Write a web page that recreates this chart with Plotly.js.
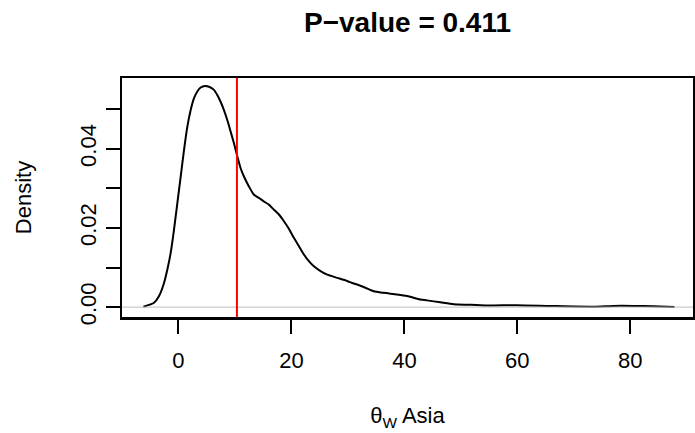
<!DOCTYPE html>
<html>
<head>
<meta charset="utf-8">
<script src="https://cdn.plot.ly/plotly-3.0.1.min.js"></script>
<style>html,body{margin:0;padding:0;background:#fff;}#plot{width:695px;height:433px;}</style>
</head>
<body>
<div id="plot"></div>
<script>
// Density estimate of theta_W Asia
const thetaX = [-6.21, -4.33, -3.44, -2.56, -1.97, -1.38, -0.79, -0.20, 0.39, 0.98, 1.57, 2.16, 2.75, 3.34, 3.93, 4.69, 5.40, 6.28, 6.87, 7.46, 8.05, 8.64, 9.23, 9.82, 10.41, 11.00, 11.59, 12.47, 13.36, 14.24, 15.13, 16.01, 16.90, 17.78, 18.67, 19.55, 20.43, 21.32, 22.20, 23.09, 23.97, 25.15, 26.33, 28.10, 29.87, 30.75, 31.64, 33.11, 34.58, 36.35, 38.71, 40.48, 42.84, 44.00, 46.37, 48.73, 51.68, 54.63, 59.93, 65.82, 73.50, 77.00, 80.57, 84.10, 87.82];
const densityY = [0.0001, 0.0011, 0.0028, 0.0061, 0.0095, 0.0137, 0.0196, 0.0263, 0.0330, 0.0397, 0.0456, 0.0498, 0.0528, 0.0545, 0.0555, 0.0559, 0.0557, 0.0549, 0.0536, 0.0519, 0.0498, 0.0473, 0.0444, 0.0414, 0.0381, 0.0351, 0.0330, 0.0305, 0.0284, 0.0276, 0.0267, 0.0259, 0.0246, 0.0234, 0.0217, 0.0198, 0.0175, 0.0154, 0.0133, 0.0116, 0.0103, 0.0091, 0.0082, 0.0074, 0.0066, 0.0061, 0.0057, 0.0049, 0.0040, 0.0036, 0.0032, 0.0028, 0.0019, 0.0017, 0.0012, 0.0007, 0.0006, 0.0004, 0.0005, 0.0003, 0.0001, 0.0003, 0.0003, 0.0002, 0.0000];
// Observed value (red vertical line)
const observedValue = [10.35];
// Axis ticks
const xTickVals = [0, 20, 40, 60, 80];
const xTickText = ['0', '20', '40', '60', '80'];
const yTickVals = [0, 0.02, 0.04];
const yTickText = ['0.00', '0.02', '0.04'];
const yMinorTickVals = [0.01, 0.03, 0.05];
const titleText = 'P\u2212value = 0.411';
const xTitleText = '\u03B8<sub>W</sub> Asia';
const yTitleText = 'Density';

const FONT = 'Liberation Sans, Arial, Helvetica, sans-serif';

const traces = [{
  x: thetaX,
  y: densityY,
  type: 'scatter',
  mode: 'lines',
  line: {color: '#000000', width: 2, shape: 'spline', smoothing: 0.6},
  hoverinfo: 'skip',
  showlegend: false
}];

const layout = {
  width: 695,
  height: 433,
  margin: {l: 122, r: 2, t: 78, b: 116, pad: 0},
  paper_bgcolor: '#ffffff',
  plot_bgcolor: '#ffffff',
  font: {family: FONT, size: 22, color: '#000000'},
  showlegend: false,
  title: {
    text: titleText,
    font: {family: FONT, size: 28, color: '#000000', weight: 'bold'},
    xref: 'paper', x: 0.5, xanchor: 'center',
    yref: 'container', y: 1 - 22 / 433, yanchor: 'middle'
  },
  xaxis: {
    range: [-10.0, 91.1],
    tickvals: xTickVals,
    ticktext: xTickText,
    ticks: 'outside', ticklen: 14, tickwidth: 2, tickcolor: '#000000',
    ticklabelstandoff: 8,
    tickfont: {family: FONT, size: 22, color: '#000000'},
    showline: true, linewidth: 2.5, linecolor: '#000000', mirror: true,
    showgrid: false, zeroline: false,
    title: {text: xTitleText, font: {family: FONT, size: 22, color: '#000000'}, standoff: 36}
  },
  yaxis: {
    range: [-0.0025, 0.0579],
    tickvals: yTickVals,
    ticktext: yTickText,
    tickangle: -90,
    ticks: 'outside', ticklen: 14, tickwidth: 2, tickcolor: '#000000',
    minor: {tickvals: yMinorTickVals, ticks: 'outside', ticklen: 14, tickwidth: 2, tickcolor: '#000000', showgrid: false},
    ticklabelstandoff: 1,
    tickfont: {family: FONT, size: 22, color: '#000000'},
    showline: true, linewidth: 2.5, linecolor: '#000000', mirror: true,
    showgrid: false, zeroline: false,
    title: {text: yTitleText, font: {family: FONT, size: 22, color: '#000000'}, standoff: 38}
  },
  shapes: [
    {type: 'line', xref: 'paper', yref: 'y', x0: 0, x1: 1, y0: 0, y1: 0,
     line: {color: '#bebebe', width: 1}, layer: 'above'},
    {type: 'line', xref: 'x', yref: 'paper', x0: observedValue[0], x1: observedValue[0], y0: 0, y1: 1,
     line: {color: '#ff0000', width: 2}, layer: 'above'}
  ]
};

Plotly.newPlot('plot', traces, layout, {staticPlot: true, displayModeBar: false});
</script>
</body>
</html>
